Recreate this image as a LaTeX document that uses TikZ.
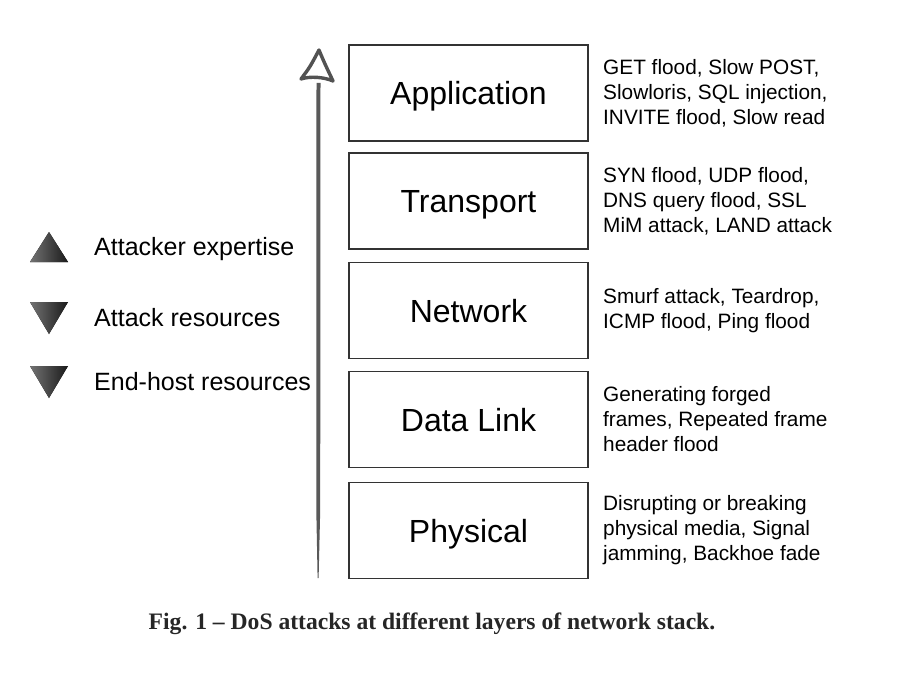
\documentclass[tikz,border=0pt]{standalone}
\usepackage{fontspec}
\setmainfont{Liberation Sans}
\newfontfamily\capfont{Liberation Serif}
\newcommand\layertxt[1]{\raisebox{-11.5pt}[0pt][0pt]{#1}}
\begin{document}
\begin{tikzpicture}[x=1pt,y=-1pt,
  layerbox/.style={draw=black!80,line width=1.8pt,fill=white,minimum width=239pt,minimum height=96pt,inner sep=0pt,font=\fontsize{32}{36}\selectfont},
  attacks/.style={anchor=west,align=left,inner sep=0pt,font=\fontsize{20.8}{25}\selectfont},
  legtext/.style={anchor=west,inner sep=0pt,font=\fontsize{25}{30}\selectfont},
  tri/.style={left color=black!55,right color=black!90,draw=none}
]
\fill[white] (0,0) rectangle (908,674);
\useasboundingbox (0,0) rectangle (908,674);
% layer boxes
\node[layerbox] (app) at (468.5,93) {\layertxt{Application}};
\node[layerbox] (tra) at (468.5,201) {\layertxt{Transport}};
\node[layerbox] (net) at (468.5,310.5) {\layertxt{Network}};
\node[layerbox] (dl) at (468.5,419.5) {\layertxt{Data Link}};
\node[layerbox] (phy) at (468.5,530.5) {\layertxt{Physical}};
% attack texts
\node[attacks] (tapp) at (603,93) {GET flood, Slow POST,\\Slowloris, SQL injection,\\INVITE flood, Slow read};
\node[attacks] (ttra) at (603,201) {SYN flood, UDP flood,\\DNS query flood, SSL\\MiM attack, LAND attack};
\node[attacks] (tnet) at (603,310.5) {Smurf attack, Teardrop,\\ICMP flood, Ping flood};
\node[attacks] (tdl) at (603,419.5) {Generating forged\\frames, Repeated frame\\header flood};
\node[attacks] (tphy) at (603,530.5) {Disrupting or breaking\\physical media, Signal\\jamming, Backhoe fade};
% legend
\fill[tri] (49,232) -- (68,262) -- (30,262) -- cycle;
\fill[tri] (30,302) -- (68,302) -- (49,334) -- cycle;
\fill[tri] (30,366) -- (68,366) -- (49,398) -- cycle;
\node[legtext] (l1) at (94,249) {Attacker expertise};
\node[legtext] (l2) at (94,318) {Attack resources};
\node[legtext] (l3) at (94,382) {End-host resources};
% arrow
\coordinate (atop) at (318.5,83);
\coordinate (abot) at (318,578);
\fill[black!65] (316.5,83) -- (320.5,83) -- (320.2,510) -- (318.6,578) -- (317.6,578) -- (316.3,510) -- cycle;
\draw[black!68,line width=3.4pt,line join=round] (319,50) .. controls (324,62) .. (333,81) .. controls (324,77) and (310,76) .. (301,79) .. controls (310,67) .. (319,50) -- cycle;
% caption
\node[inner sep=0pt,font=\capfont\bfseries\fontsize{23.6}{27}\selectfont,text=black!85] (cap) at (432,624) {Fig. 1 – DoS attacks at different layers of network stack.};
\end{tikzpicture}
\end{document}
